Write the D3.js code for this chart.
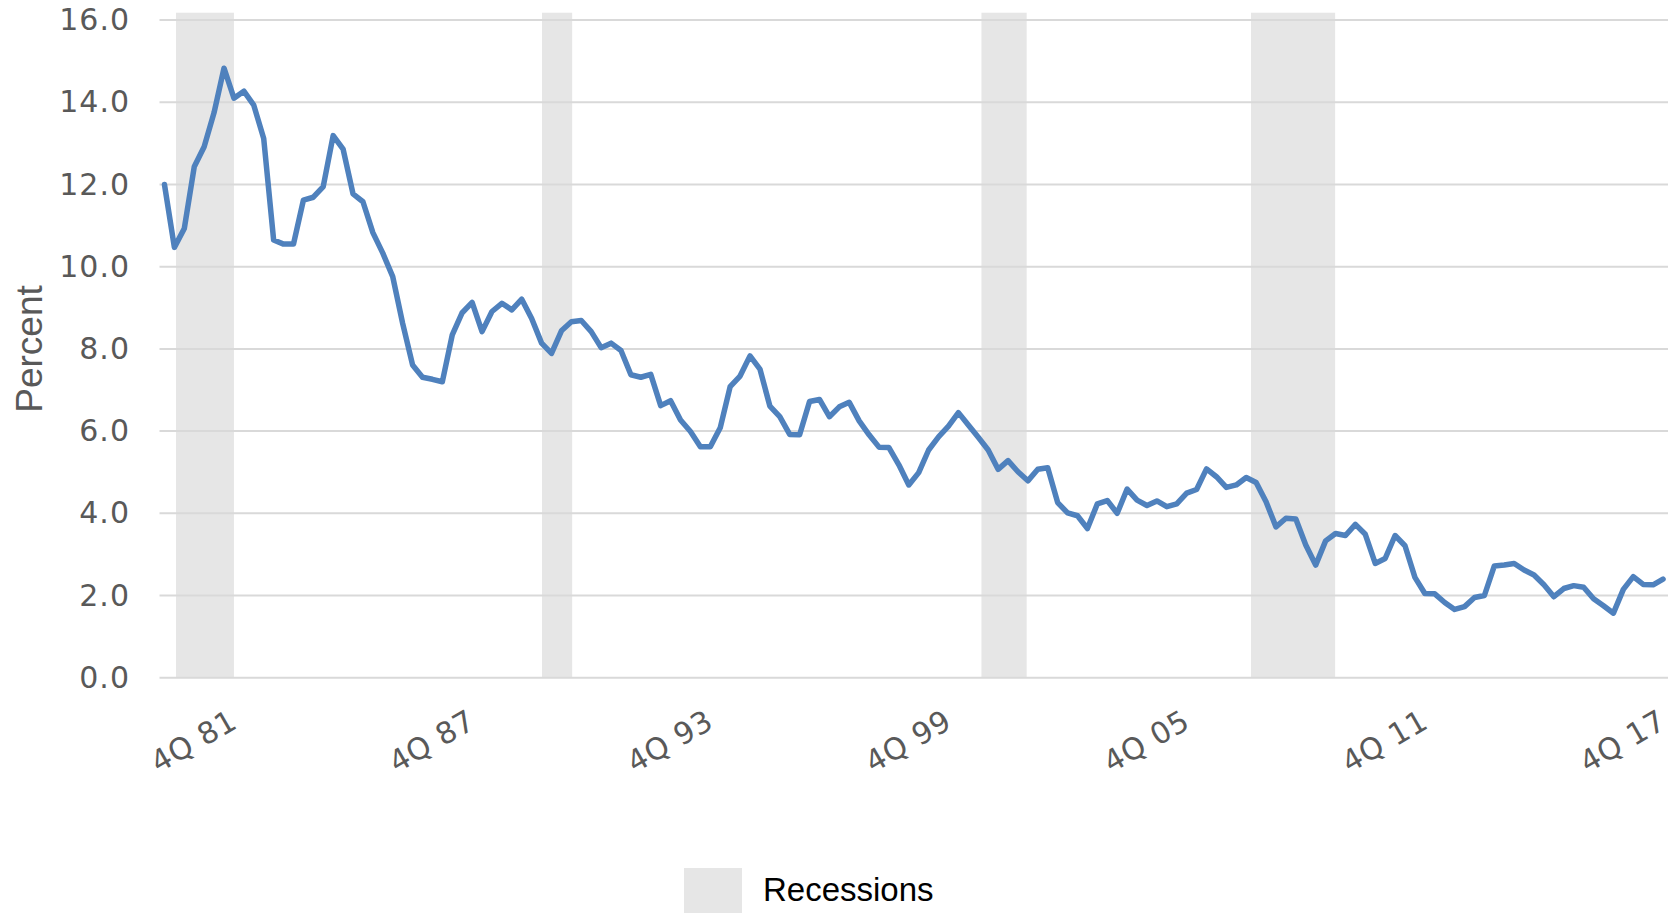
<!DOCTYPE html>
<html>
<head>
<meta charset="utf-8">
<script src="https://cdn.jsdelivr.net/npm/d3@7"></script>
<style>
  html, body { margin: 0; padding: 0; background: #fff; }
  svg { display: block; }
</style>
</head>
<body>
<div id="chart"></div>
<script>
// quarterly values, 1Q 80 .. 4Q 17
const values = [
  12.00, 10.47, 10.93, 12.43,
  12.92, 13.75, 14.83, 14.10,
  14.27, 13.93, 13.12, 10.65,
  10.55, 10.55, 11.62, 11.69,
  11.95, 13.19, 12.86, 11.77,
  11.58, 10.83, 10.33, 9.76,
  8.62, 7.61, 7.31, 7.26,
  7.20, 8.34, 8.88, 9.13,
  8.42, 8.91, 9.11, 8.95,
  9.21, 8.74, 8.14, 7.89,
  8.44, 8.66, 8.69, 8.42,
  8.03, 8.14, 7.96, 7.37,
  7.31, 7.38, 6.62, 6.74,
  6.27, 5.99, 5.62, 5.62,
  6.08, 7.08, 7.34, 7.83,
  7.51, 6.61, 6.35, 5.92,
  5.91, 6.72, 6.77, 6.35,
  6.59, 6.70, 6.25, 5.91,
  5.61, 5.60, 5.18, 4.69,
  4.99, 5.54, 5.86, 6.12,
  6.45, 6.15, 5.85, 5.54,
  5.07, 5.28, 5.01, 4.79,
  5.07, 5.11, 4.26, 4.01,
  3.94, 3.63, 4.23, 4.31,
  4.00, 4.59, 4.32, 4.19,
  4.30, 4.16, 4.23, 4.49,
  4.58, 5.08, 4.89, 4.63,
  4.69, 4.87, 4.75, 4.28,
  3.67, 3.88, 3.86, 3.23,
  2.74, 3.33, 3.51, 3.46,
  3.73, 3.49, 2.78, 2.90,
  3.46, 3.21, 2.44, 2.05,
  2.04, 1.83, 1.66, 1.73,
  1.95, 2.00, 2.72, 2.74,
  2.78, 2.62, 2.50, 2.26,
  1.97, 2.17, 2.24, 2.20,
  1.92, 1.75, 1.57, 2.15,
  2.46, 2.27, 2.26, 2.40
];

const firstYear = 1980;
const tickLabels = ["4Q 81", "4Q 87", "4Q 93", "4Q 99", "4Q 05", "4Q 11", "4Q 17"];

// recession shading, in decimal years as drawn
const recStart = [1980.29, 1989.51, 2000.58, 2007.37];
const recEnd = [1981.75, 1990.27, 2001.72, 2009.49];
const recTop = 16.18;

const yTicks = [0, 2, 4, 6, 8, 10, 12, 14, 16];

const width = 1673;
const height = 913;

const data = values.map((v, i) => ({
  label: `${i % 4 + 1}Q ${String((firstYear + Math.floor(i / 4)) % 100).padStart(2, "0")}`,
  t: firstYear + i / 4,
  value: v
}));

const svg = d3.select("#chart")
  .append("svg")
  .attr("width", width)
  .attr("height", height)
  .style("background", "white");

const x = d3.scaleLinear()
  .domain([firstYear - 0.125, firstYear + values.length / 4 - 0.125])
  .range([159.5, 1668]);

const y = d3.scaleLinear()
  .domain([0, 16])
  .range([677.7, 20.1]);

// recessions
svg.append("g")
  .selectAll("rect")
  .data(recStart.map((s, i) => ({ s, e: recEnd[i] })))
  .enter()
  .append("rect")
    .attr("x", d => x(d.s))
    .attr("y", y(recTop))
    .attr("width", d => x(d.e) - x(d.s))
    .attr("height", y(0) - y(recTop))
    .attr("fill", "#e6e6e6");

// gridlines
svg.append("g")
  .selectAll("line")
  .data(yTicks)
  .enter()
  .append("line")
    .attr("x1", x.range()[0])
    .attr("x2", x.range()[1])
    .attr("y1", d => y(d))
    .attr("y2", d => y(d))
    .attr("stroke", "#d9d9d9")
    .attr("stroke-width", 2);

// y axis labels
const yAxis = svg.append("g")
  .attr("transform", "translate(130,0)")
  .call(d3.axisLeft(y).tickValues(yTicks).tickFormat(d3.format(".1f")).tickSize(0).tickPadding(0));
yAxis.select(".domain").remove();
yAxis.selectAll("text")
  .attr("fill", "#595959")
  .attr("font-family", "DejaVu Sans")
  .attr("font-size", "30px")
  .attr("letter-spacing", "1px");

svg.append("text")
  .attr("transform", `translate(42,349) rotate(-90)`)
  .attr("text-anchor", "middle")
  .attr("font-family", "Liberation Sans, Arial")
  .attr("font-size", "37px")
  .attr("fill", "#595959")
  .text("Percent");

// x axis labels
const tickData = data.filter(d => tickLabels.includes(d.label));
svg.append("g")
  .selectAll("text")
  .data(tickData)
  .enter()
  .append("text")
    .attr("transform", d => `translate(${x(d.t) + 5},727) rotate(-30)`)
    .attr("text-anchor", "end")
    .attr("font-family", "DejaVu Sans")
    .attr("font-size", "30px")
    .attr("letter-spacing", "0.5px")
    .attr("fill", "#595959")
    .text(d => d.label);

// line
const line = d3.line()
  .x(d => x(d.t))
  .y(d => y(d.value));

svg.append("path")
  .datum(data)
  .attr("d", line)
  .attr("fill", "none")
  .attr("stroke", "#4f81bd")
  .attr("stroke-width", 5.5)
  .attr("stroke-linejoin", "round")
  .attr("stroke-linecap", "round");

// legend
svg.append("rect")
  .attr("x", 684)
  .attr("y", 868)
  .attr("width", 58)
  .attr("height", 46)
  .attr("fill", "#e6e6e6");

svg.append("text")
  .attr("x", 763)
  .attr("y", 901)
  .attr("font-family", "Liberation Sans, Arial")
  .attr("font-size", "33px")
  .attr("fill", "#000")
  .text("Recessions");
</script>
</body>
</html>
